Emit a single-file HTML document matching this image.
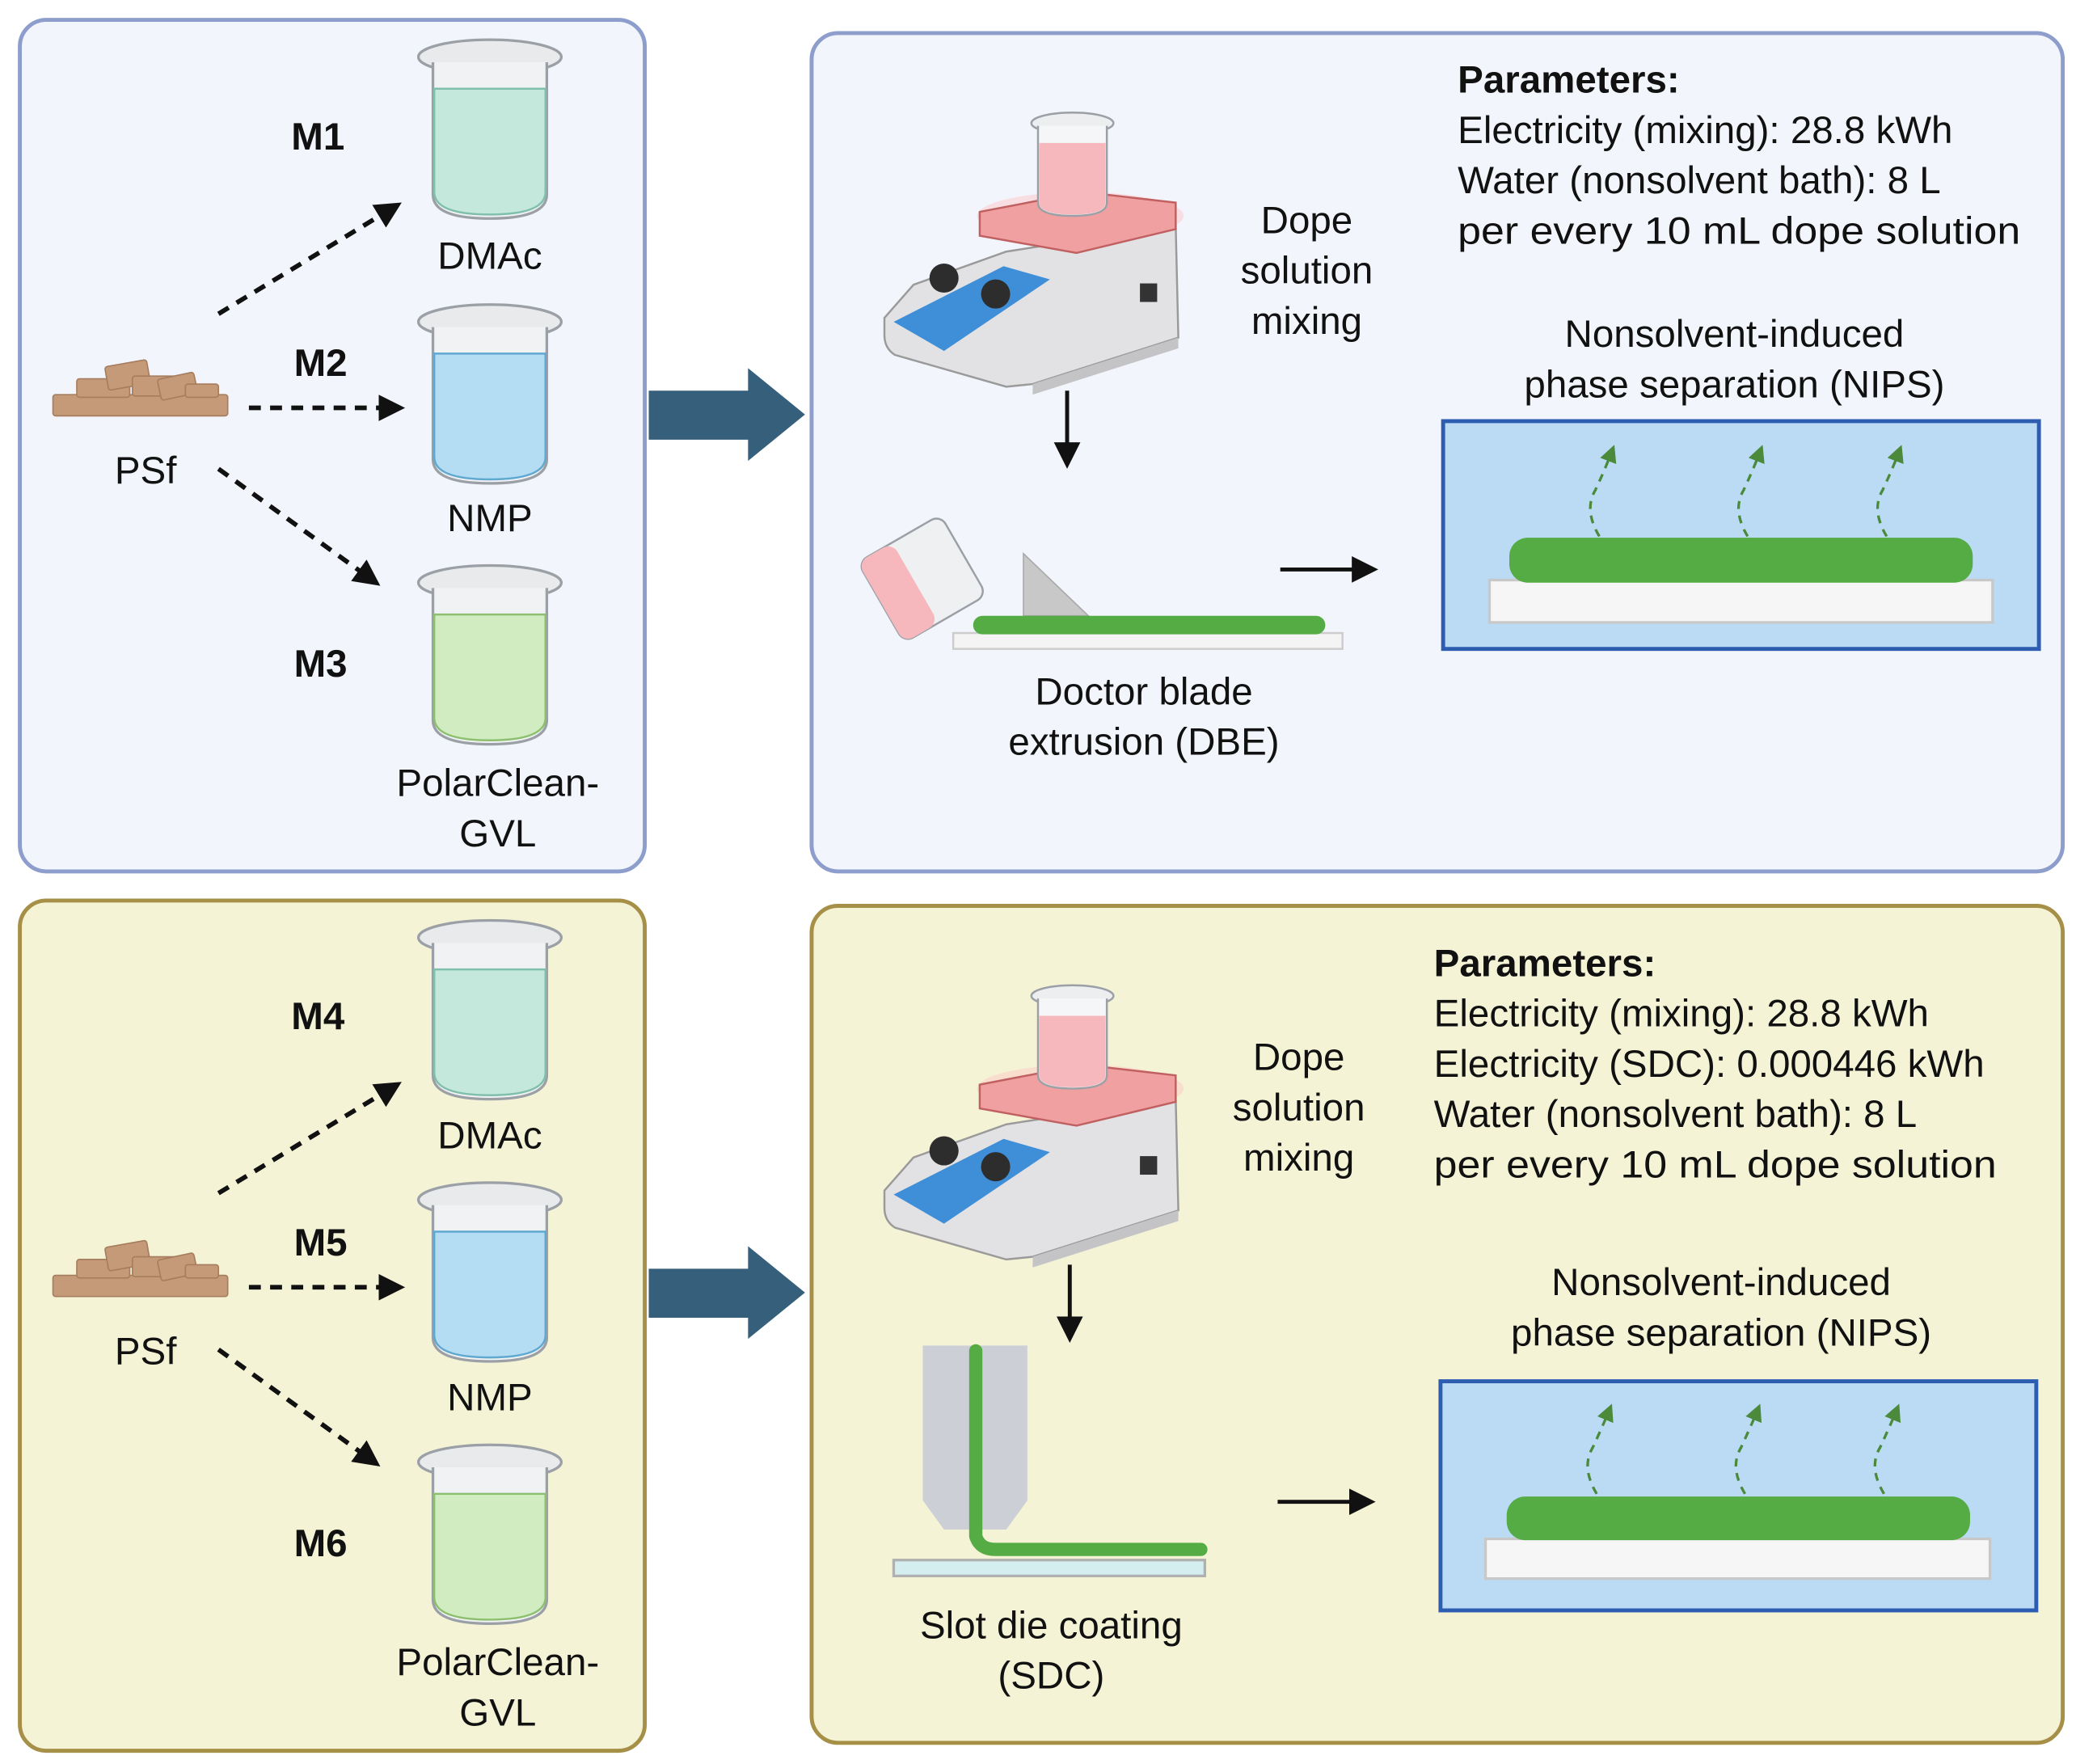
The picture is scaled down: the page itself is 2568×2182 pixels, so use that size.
<!DOCTYPE html>
<html><head><meta charset="utf-8"><style>
html,body{margin:0;padding:0;background:#fff;}
svg{display:block;}
text{font-family:"Liberation Sans",sans-serif;fill:#111;}
</style></head><body>
<svg width="2568" height="2182" viewBox="0 0 1568 1332" preserveAspectRatio="none" xmlns="http://www.w3.org/2000/svg">
<defs>
<marker id="ahs" viewBox="0 0 10 10" refX="8" refY="5" markerWidth="20" markerHeight="20" orient="auto" markerUnits="userSpaceOnUse"><path d="M0,0 L10,5 L0,10 z" fill="#111"/></marker>
<marker id="ahg" viewBox="0 0 10 10" refX="5" refY="5" markerWidth="13" markerHeight="13" orient="auto" markerUnits="userSpaceOnUse"><path d="M0,0 L10,5 L0,10 z" fill="#4a8a3a"/></marker>
<g id="beakerTL">
  <ellipse cx="55" cy="18" rx="54" ry="13" fill="#e8eaec" stroke="#9aa0a6" stroke-width="2"/>
  <path d="M12,22 L12,122 Q12,140 55,140 Q98,140 98,122 L98,22" fill="#f0f2f4" stroke="#9aa0a6" stroke-width="2"/>
</g>
<g id="hotplate">
  <ellipse cx="148" cy="80" rx="78" ry="18" fill="#ffc4c4" opacity="0.45"/>
  <path d="M0,157 L22,132 L92,107 L220,87 L222,172 L112,207 L92,209 L8,185 Q0,180 0,170 z" fill="#e2e2e4" stroke="#9a9a9a" stroke-width="1.5"/>
  <path d="M112,207 L222,172 L222,180 L112,215 z" fill="#c4c4c6"/>
  <path d="M7,160 L90,118 L125,128 L45,182 z" fill="#3f8ed8"/>
  <circle cx="45" cy="127" r="11" fill="#2d2d2d"/>
  <circle cx="84" cy="139" r="11" fill="#2d2d2d"/>
  <rect x="193" y="131" width="13" height="14" fill="#333"/>
  <polygon points="72,77 150,62 220,70 220,90 145,108 72,95" fill="#f0a0a0" stroke="#c06060" stroke-width="1.5"/>
  <g transform="translate(110,0)">
    <ellipse cx="32" cy="10" rx="31" ry="8" fill="#eceef0" stroke="#9aa0a6" stroke-width="1.5"/>
    <path d="M6,12 L6,70 Q6,80 32,80 Q58,80 58,70 L58,12" fill="#f5f6f7" stroke="#9aa0a6" stroke-width="1.5"/>
    <path d="M7,25 L57,25 L57,70 Q57,79 32,79 Q7,79 7,70 z" fill="#f6b8bd"/>
  </g>
</g>
</defs>

<rect x="15" y="15" width="472" height="643" rx="20" fill="#f2f5fb" stroke="#8d9dcc" stroke-width="3"/>
<rect x="613" y="25" width="945" height="633" rx="20" fill="#f2f5fb" stroke="#8d9dcc" stroke-width="3"/>
<rect x="15" y="680" width="472" height="642" rx="20" fill="#f5f3d6" stroke="#a68f47" stroke-width="3"/>
<rect x="613" y="684" width="945" height="632" rx="20" fill="#f5f3d6" stroke="#a68f47" stroke-width="3"/>

<polygon points="490,295 565,295 565,278 608,313 565,348 565,332 490,332" fill="#355f7a"/>
<polygon points="490,958 565,958 565,941 608,976 565,1011 565,995 490,995" fill="#355f7a"/>

<g transform="translate(315,25)"><use href="#beakerTL"/><path d="M13,42 L97,42 L97,120 Q97,137 55,137 Q13,137 13,120 z" fill="#c4e8dc" stroke="#7fbfab" stroke-width="1.5"/></g>
<g transform="translate(315,225)"><use href="#beakerTL"/><path d="M13,42 L97,42 L97,120 Q97,137 55,137 Q13,137 13,120 z" fill="#b4dcf3" stroke="#5fa8d0" stroke-width="1.5"/></g>
<g transform="translate(315,422)"><use href="#beakerTL"/><path d="M13,42 L97,42 L97,120 Q97,137 55,137 Q13,137 13,120 z" fill="#d2ecc2" stroke="#8cc06e" stroke-width="1.5"/></g>
<g transform="translate(315,690)"><use href="#beakerTL"/><path d="M13,42 L97,42 L97,120 Q97,137 55,137 Q13,137 13,120 z" fill="#c4e8dc" stroke="#7fbfab" stroke-width="1.5"/></g>
<g transform="translate(315,888)"><use href="#beakerTL"/><path d="M13,42 L97,42 L97,120 Q97,137 55,137 Q13,137 13,120 z" fill="#b4dcf3" stroke="#5fa8d0" stroke-width="1.5"/></g>
<g transform="translate(315,1086)"><use href="#beakerTL"/><path d="M13,42 L97,42 L97,120 Q97,137 55,137 Q13,137 13,120 z" fill="#d2ecc2" stroke="#8cc06e" stroke-width="1.5"/></g>

<g id="pile" fill="#c49a78" stroke="#a67d5e" stroke-width="1">
  <rect x="40" y="298" width="132" height="16" rx="2"/>
  <rect x="58" y="286" width="40" height="14" rx="2"/>
  <rect x="80" y="274" width="32" height="18" rx="2" transform="rotate(-10 97 281)"/>
  <rect x="100" y="284" width="38" height="15" rx="2"/>
  <rect x="120" y="283" width="28" height="16" rx="2" transform="rotate(-12 137 291)"/>
  <rect x="140" y="290" width="25" height="10" rx="2"/>
</g>
<use href="#pile" transform="translate(0,665)"/>

<g stroke="#111" stroke-width="3.5" stroke-dasharray="9,7" fill="none" marker-end="url(#ahs)">
<line x1="165" y1="237" x2="300" y2="155"/>
<line x1="188" y1="308" x2="302" y2="308"/>
<line x1="165" y1="354" x2="284" y2="440"/>
<line x1="165" y1="901" x2="300" y2="819"/>
<line x1="188" y1="972" x2="302" y2="972"/>
<line x1="165" y1="1019" x2="284" y2="1105"/>
</g>

<g font-size="29">
<text x="220" y="113" font-weight="bold">M1</text>
<text x="222" y="284" font-weight="bold">M2</text>
<text x="222" y="511" font-weight="bold">M3</text>
<text x="220" y="777" font-weight="bold">M4</text>
<text x="222" y="948" font-weight="bold">M5</text>
<text x="222" y="1175" font-weight="bold">M6</text>
<text x="370" y="203" text-anchor="middle">DMAc</text>
<text x="370" y="401" text-anchor="middle">NMP</text>
<text x="376" y="601" text-anchor="middle">PolarClean-</text>
<text x="376" y="639" text-anchor="middle">GVL</text>
<text x="110" y="365" text-anchor="middle">PSf</text>
<text x="370" y="867" text-anchor="middle">DMAc</text>
<text x="370" y="1065" text-anchor="middle">NMP</text>
<text x="376" y="1265" text-anchor="middle">PolarClean-</text>
<text x="376" y="1303" text-anchor="middle">GVL</text>
<text x="110" y="1030" text-anchor="middle">PSf</text>
</g>

<use href="#hotplate" transform="translate(668,83)"/>
<line x1="806" y1="295" x2="806" y2="350" stroke="#111" stroke-width="3" marker-end="url(#ahs)"/>
<g transform="rotate(-30 700 435)">
  <rect x="660" y="400" width="72" height="70" rx="8" fill="#eef0f2" stroke="#9aa0a6" stroke-width="1.5"/>
  <rect x="660" y="400" width="30" height="70" rx="8" fill="#f6b8bd"/>
</g>
<polygon points="773,418 773,465 822,465" fill="#c8c8c8" stroke="#aaa" stroke-width="1"/>
<rect x="720" y="478" width="294" height="12" fill="#f4f4f4" stroke="#ccc" stroke-width="1.5"/>
<rect x="735" y="465" width="266" height="14" rx="7" fill="#55ab44"/>
<line x1="967" y1="430" x2="1037" y2="430" stroke="#111" stroke-width="3" marker-end="url(#ahs)"/>
<rect x="1090" y="318" width="450" height="172" fill="#badbf3" stroke="#2d5db0" stroke-width="3"/>
<rect x="1125" y="438" width="380" height="32" fill="#f6f6f6" stroke="#c8c8c8" stroke-width="2"/>
<rect x="1140" y="406" width="350" height="34" rx="14" fill="#55ab44"/>
<g stroke="#4a8a3a" stroke-width="2" stroke-dasharray="6,5" fill="none" marker-end="url(#ahg)">
<path d="M1208,405 Q1196,385 1205,370 Q1212,355 1217,342"/>
<path d="M1320,405 Q1308,385 1317,370 Q1324,355 1329,342"/>
<path d="M1425,405 Q1413,385 1422,370 Q1429,355 1434,342"/>
</g>
<g font-size="29">
<text x="1101" y="70" font-weight="bold">Parameters:</text>
<text x="1101" y="108">Electricity (mixing): 28.8 kWh</text>
<text x="1101" y="146">Water (nonsolvent bath): 8 L</text>
<text x="1101" y="184" textLength="425" lengthAdjust="spacingAndGlyphs">per every 10 mL dope solution</text>
<text x="987" y="176" text-anchor="middle">Dope</text>
<text x="987" y="214" text-anchor="middle">solution</text>
<text x="987" y="252" text-anchor="middle">mixing</text>
<text x="1310" y="262" text-anchor="middle">Nonsolvent-induced</text>
<text x="1310" y="300" text-anchor="middle">phase separation (NIPS)</text>
<text x="864" y="532" text-anchor="middle">Doctor blade</text>
<text x="864" y="570" text-anchor="middle">extrusion (DBE)</text>
</g>

<use href="#hotplate" transform="translate(668,742)"/>
<line x1="808" y1="955" x2="808" y2="1010" stroke="#111" stroke-width="3" marker-end="url(#ahs)"/>
<polygon points="697,1016 776,1016 776,1133 760,1155 713,1155 697,1133" fill="#ccd0d6"/>
<rect x="675" y="1178" width="235" height="12" fill="#d4eef0" stroke="#b0b0b0" stroke-width="2"/>
<path d="M737,1020 L737,1160 Q740,1170 752,1170 L907,1170" fill="none" stroke="#55ab44" stroke-width="10" stroke-linecap="round" stroke-linejoin="round"/>
<line x1="965" y1="1134" x2="1035" y2="1134" stroke="#111" stroke-width="3" marker-end="url(#ahs)"/>
<rect x="1088" y="1043" width="450" height="173" fill="#badbf3" stroke="#2d5db0" stroke-width="3"/>
<rect x="1122" y="1162" width="381" height="30" fill="#f6f6f6" stroke="#c8c8c8" stroke-width="2"/>
<rect x="1138" y="1130" width="350" height="33" rx="14" fill="#55ab44"/>
<g stroke="#4a8a3a" stroke-width="2" stroke-dasharray="6,5" fill="none" marker-end="url(#ahg)">
<path d="M1206,1128 Q1194,1108 1203,1093 Q1210,1078 1215,1066"/>
<path d="M1318,1128 Q1306,1108 1315,1093 Q1322,1078 1327,1066"/>
<path d="M1423,1128 Q1411,1108 1420,1093 Q1427,1078 1432,1066"/>
</g>
<g font-size="29">
<text x="1083" y="737" font-weight="bold">Parameters:</text>
<text x="1083" y="775">Electricity (mixing): 28.8 kWh</text>
<text x="1083" y="813">Electricity (SDC): 0.000446 kWh</text>
<text x="1083" y="851">Water (nonsolvent bath):  8 L</text>
<text x="1083" y="889" textLength="425" lengthAdjust="spacingAndGlyphs">per every 10 mL dope solution</text>
<text x="981" y="808" text-anchor="middle">Dope</text>
<text x="981" y="846" text-anchor="middle">solution</text>
<text x="981" y="884" text-anchor="middle">mixing</text>
<text x="1300" y="978" text-anchor="middle">Nonsolvent-induced</text>
<text x="1300" y="1016" text-anchor="middle">phase separation (NIPS)</text>
<text x="794" y="1237" text-anchor="middle">Slot die coating</text>
<text x="794" y="1275" text-anchor="middle">(SDC)</text>
</g>
</svg>
</body></html>
